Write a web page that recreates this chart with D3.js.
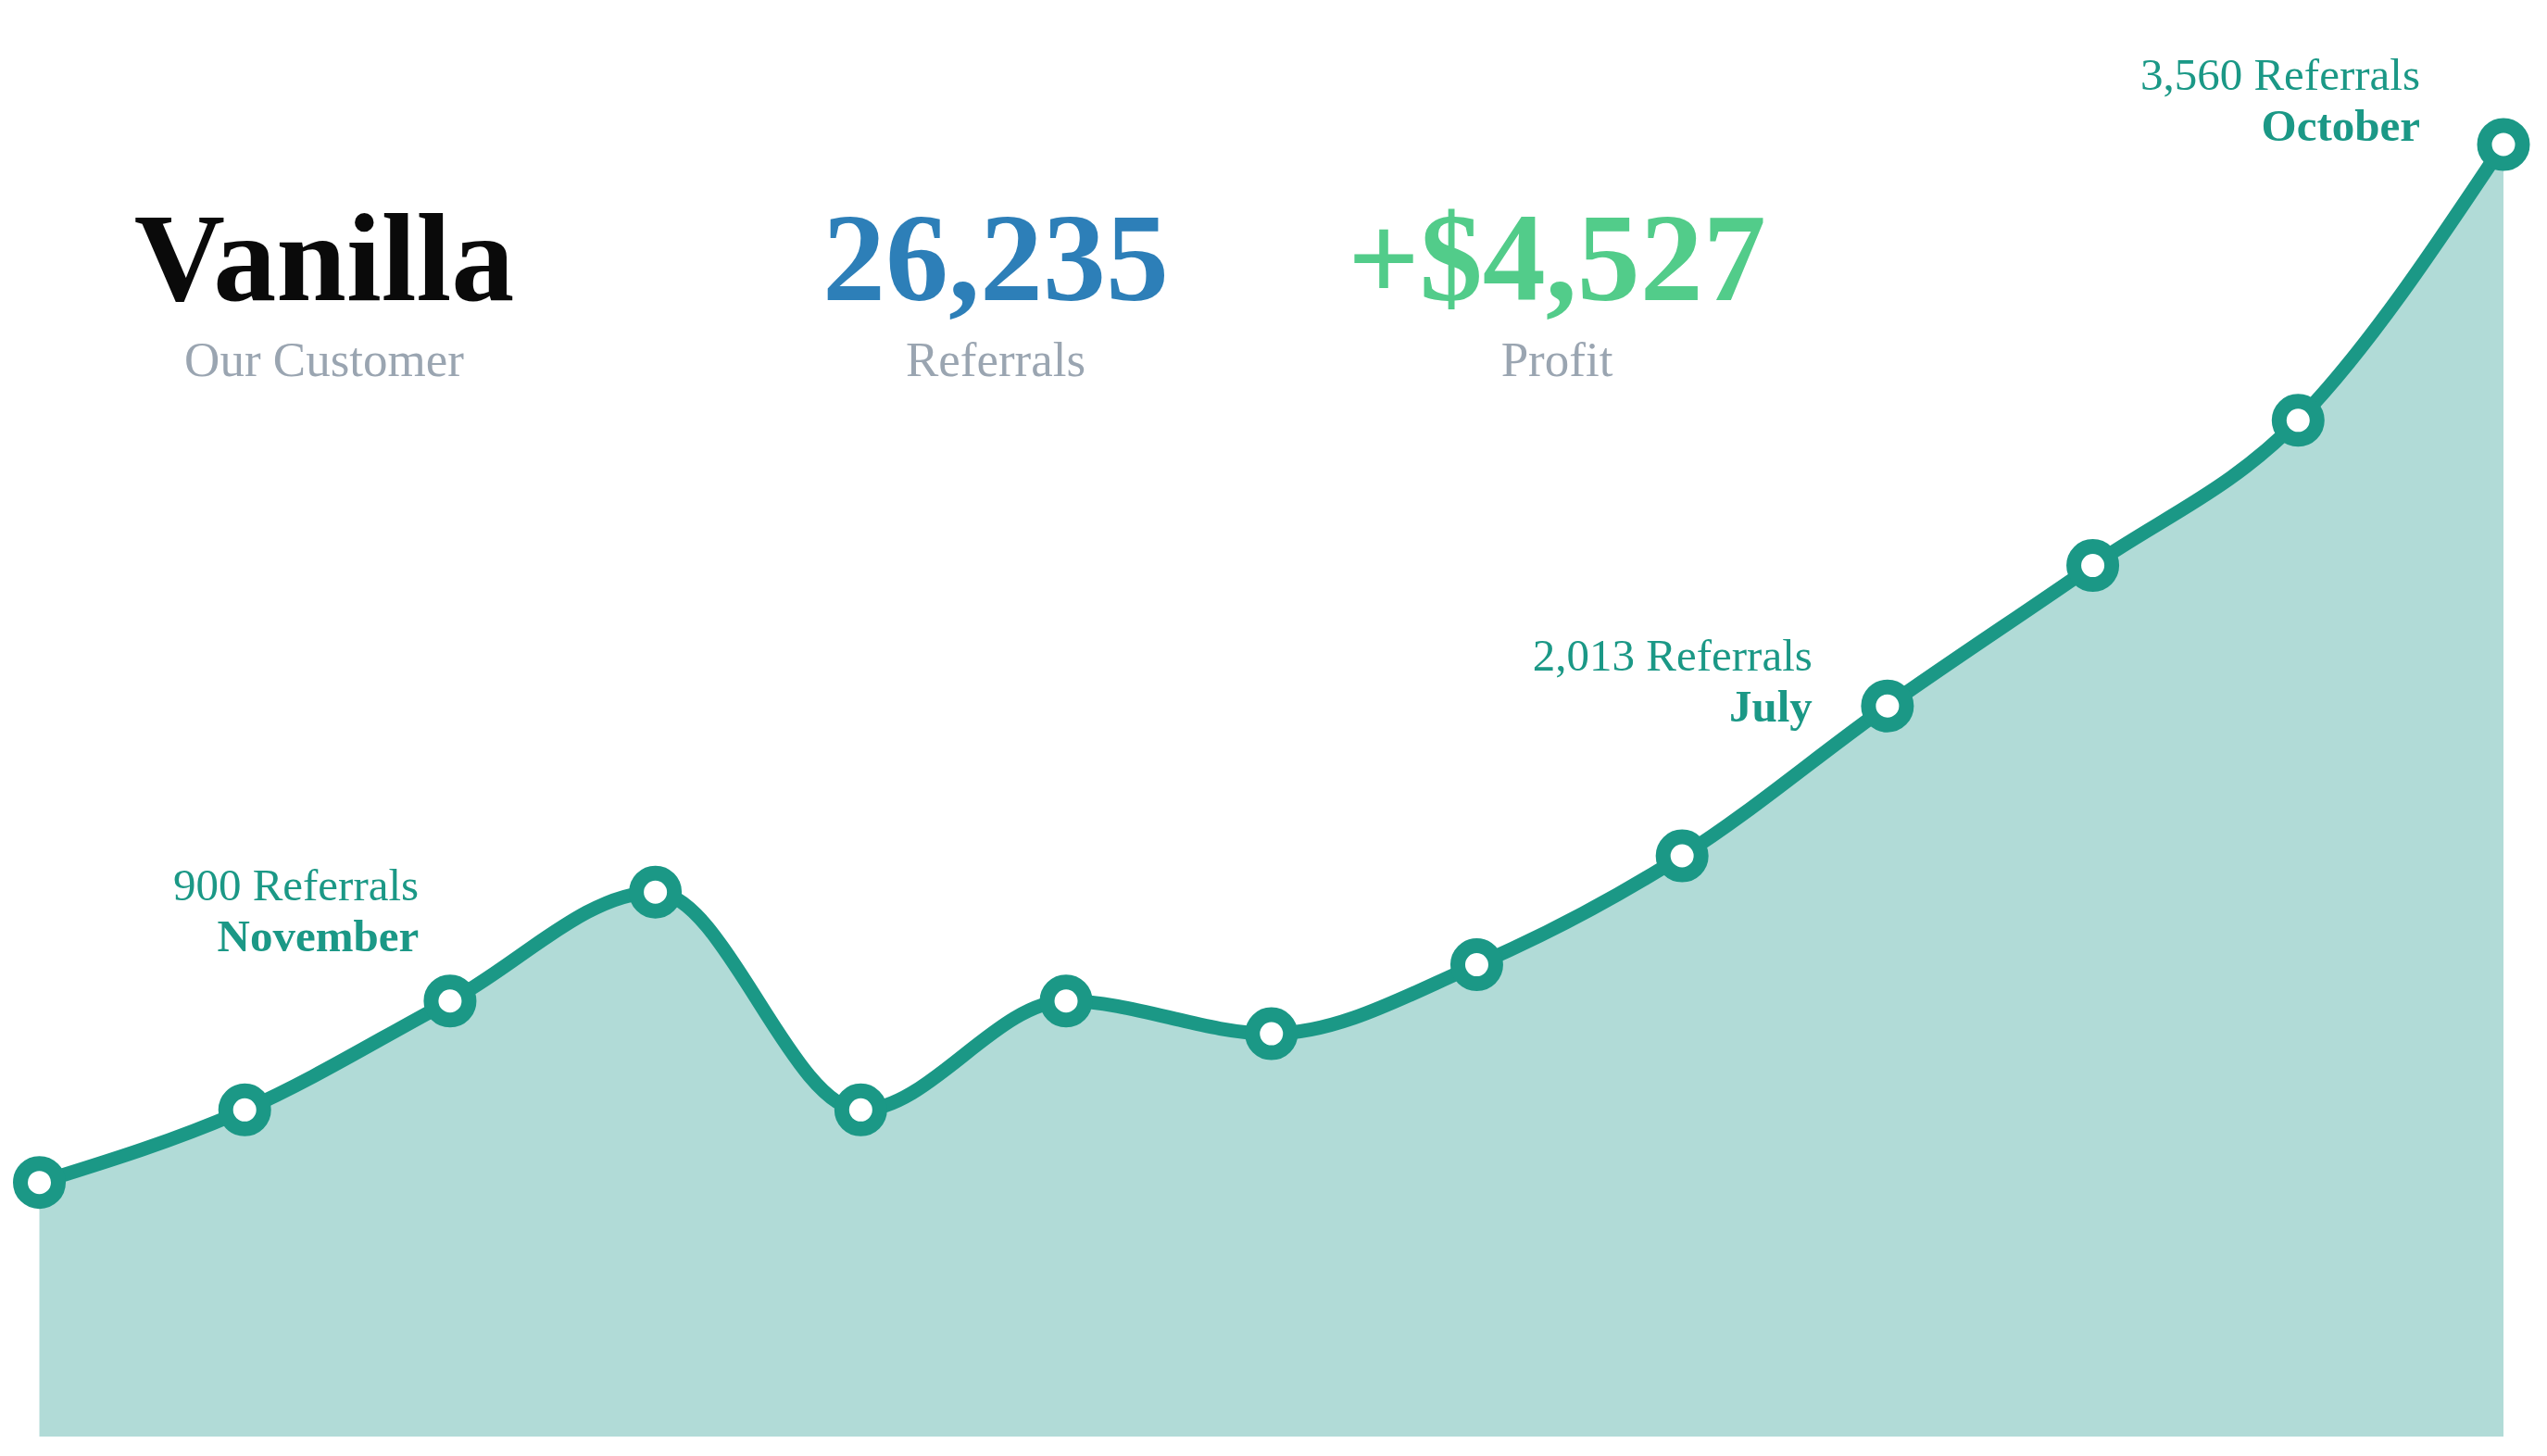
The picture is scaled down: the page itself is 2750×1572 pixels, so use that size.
<!DOCTYPE html>
<html>
<head>
<meta charset="utf-8">
<script src="https://cdn.jsdelivr.net/npm/d3@7"></script>
<style>
  html, body { margin: 0; padding: 0; background: #ffffff; }
  svg { display: block; }
</style>
</head>
<body>
<svg id="chart" width="2750" height="1572"></svg>
<script>
// ---- data ----
const months = ["October", "November", "December", "January", "February", "March", "April",
                "May", "June", "July", "August", "September", "October"];
const referrals = [700, 900, 1200, 1500, 900, 1200, 1110, 1300, 1600, 2013, 2400, 2800, 3560];
const headlineValues = ["Vanilla", "26,235", "+$4,527"];
const headlineLabels = ["Our Customer", "Referrals", "Profit"];
const annotatedIndices = [1, 9, 12];

// ---- layout / style (kept separate from data) ----
const W = 2750, H = 1572;
const xRange = [42.5, 2703];
const yRange = [1551, 156];
const teal = "#1b9886";
const areaFill = "#b1dbd7";
const headlineColors = ["#0a0a0a", "#2d7fb8", "#52cc8a"];
const headlineCenters = [350, 1075, 1681];
const serif = "'Liberation Serif', 'Times New Roman', serif";
// label offsets relative to the annotated point: [dxRightEdge, dyFirstBaseline]
const labelOffsets = { 1: [188, -226], 9: [-81, -38], 12: [-90, -59] };

const svg = d3.select("#chart");

const x = d3.scaleLinear().domain([0, months.length - 1]).range(xRange);
const y = d3.scaleLinear().domain([0, d3.max(referrals)]).range(yRange);

const data = referrals.map((v, i) => ({ i, v, month: months[i] }));

// area
const area = d3.area()
  .x(d => x(d.i))
  .y0(y(0))
  .y1(d => y(d.v))
  .curve(d3.curveMonotoneX);

svg.append("path")
  .datum(data)
  .attr("d", area)
  .attr("fill", areaFill);

// line
const line = d3.line()
  .x(d => x(d.i))
  .y(d => y(d.v))
  .curve(d3.curveMonotoneX);

svg.append("path")
  .datum(data)
  .attr("d", line)
  .attr("fill", "none")
  .attr("stroke", teal)
  .attr("stroke-width", 15)
  .attr("stroke-linejoin", "round")
  .attr("stroke-linecap", "round");

// points
svg.append("g").selectAll("circle")
  .data(data)
  .join("circle")
  .attr("cx", d => x(d.i))
  .attr("cy", d => y(d.v))
  .attr("r", 20.5)
  .attr("fill", "#ffffff")
  .attr("stroke", teal)
  .attr("stroke-width", 16);

// annotations
const fmt = d3.format(",");
const ann = svg.append("g").selectAll("text")
  .data(data.filter(d => annotatedIndices.includes(d.i)))
  .join("text")
  .attr("text-anchor", "end")
  .attr("font-family", serif)
  .attr("font-size", 49)
  .attr("fill", teal)
  .attr("x", d => x(d.i) + labelOffsets[d.i][0])
  .attr("y", d => y(d.v) + labelOffsets[d.i][1]);

ann.append("tspan")
  .text(d => fmt(d.v) + " Referrals");
ann.append("tspan")
  .attr("x", d => x(d.i) + labelOffsets[d.i][0])
  .attr("dy", 55)
  .attr("font-weight", "bold")
  .text(d => d.month);

// headline
const head = svg.append("g");
headlineValues.forEach((t, k) => {
  head.append("text")
    .attr("x", headlineCenters[k])
    .attr("y", 324)
    .attr("text-anchor", "middle")
    .attr("font-family", serif)
    .attr("font-weight", "bold")
    .attr("font-size", 136)
    .attr("fill", headlineColors[k])
    .text(t);
  head.append("text")
    .attr("x", headlineCenters[k])
    .attr("y", 406)
    .attr("text-anchor", "middle")
    .attr("font-family", serif)
    .attr("font-size", 53)
    .attr("fill", "#9aa5b1")
    .text(headlineLabels[k]);
});
</script>
</body>
</html>
